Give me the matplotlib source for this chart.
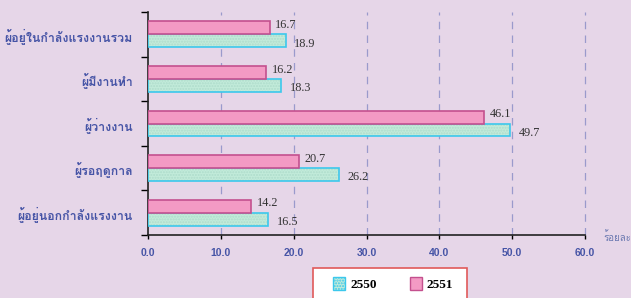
import matplotlib
matplotlib.use("Agg")
import matplotlib.pyplot as plt
from matplotlib import font_manager as fm
from matplotlib.ft2font import FT2Font
from matplotlib.patches import Patch, Rectangle
import numpy as np

categories = ["ผู้อยู่ในกำลังแรงงานรวม", "ผู้มีงานทำ", "ผู้ว่างงาน", "ผู้รอฤดูกาล", "ผู้อยู่นอกกำลังแรงงาน"]
values_2551 = [16.7, 16.2, 46.1, 20.7, 14.2]
values_2550 = [18.9, 18.3, 49.7, 26.2, 16.5]
xticks = [0, 10, 20, 30, 40, 50, 60]
xtick_labels = ["0.0", "10.0", "20.0", "30.0", "40.0", "50.0", "60.0"]
series_names = ["2550", "2551"]
unit_label = "ร้อยละ"

def find_thai_font():
    cands = []
    for f in fm.fontManager.ttflist:
        try:
            cmap = FT2Font(f.fname).get_charmap()
        except Exception:
            continue
        if ord("ผ") in cmap and ord("ำ") in cmap:
            cands.append(f.name)
    return cands[0] if cands else "DejaVu Sans"

thai = find_thai_font()

BG = "#E6D6E8"
BLUE = "#4654A6"
W, H = 631, 298
fig = plt.figure(figsize=(W/100, H/100), dpi=100, facecolor=BG)
ax = fig.add_axes([148/W, 1-235/H, (585-148)/W, (235-12)/H])
ax.set_facecolor(BG)

n = len(categories)
ypos = np.arange(n)[::-1]
h = 0.29
off = 0.145

# green (2550) bars
ax.barh(ypos - off, values_2550, height=h, color="#C2EBDA", hatch="......",
        edgecolor="#AEDCCB", linewidth=0, zorder=3)
ax.barh(ypos - off, values_2550, height=h, fill=False, edgecolor="#3CC8EC",
        linewidth=1.2, zorder=4)
# pink (2551) bars
ax.barh(ypos + off, values_2551, height=h, color="#F39AC4", edgecolor="#C4508E",
        linewidth=1.2, zorder=4)

for y, v in zip(ypos, values_2551):
    ax.annotate(f"{v:.1f}", (v, y + off), xytext=(4, 2), textcoords="offset points",
                va="center", ha="left", fontsize=8.8, family="Liberation Serif", color="#333333")
for y, v in zip(ypos, values_2550):
    ax.annotate(f"{v:.1f}", (v, y - off), xytext=(6, -2), textcoords="offset points",
                va="center", ha="left", fontsize=8.8, family="Liberation Serif", color="#333333")

ax.set_xlim(0, 60)
ax.set_ylim(-0.5, n - 0.5)
ax.set_xticks(xticks)
ax.set_xticklabels(xtick_labels, fontsize=7.5, fontweight="bold", color=BLUE, family="Liberation Sans")
for x in xticks[1:]:
    ax.axvline(x, color="#9A9ACC", lw=0.9, ls=(0, (6, 5)), zorder=1, clip_on=False)

ax.set_yticks(np.arange(-0.5, n, 1.0))
ax.set_yticklabels([])
ax.set_yticks(ypos, minor=True)
ax.set_yticklabels(categories, minor=True, fontsize=8.9, fontweight="bold", color=BLUE,
                   family=[thai, "DejaVu Sans"])
ax.tick_params(axis="y", which="major", length=5, width=1, direction="out")
ax.tick_params(axis="y", which="minor", length=0, pad=11)
ax.tick_params(axis="x", length=3, width=1, direction="out", pad=6)

for s in ["top", "right"]:
    ax.spines[s].set_visible(False)
for s in ["left", "bottom"]:
    ax.spines[s].set_color("#222222")
    ax.spines[s].set_linewidth(1.2)
ax.spines["bottom"].set_bounds(0, 60)

fig.text(603/W, 1-237/H, unit_label, fontsize=7, color="#6A78B0", va="center", ha="left",
         family=[thai, "DejaVu Sans"])

# legend box
fig.patches.append(Rectangle((313/W, -0.05), (467-313)/W, 1-268/H+0.05, transform=fig.transFigure,
                             facecolor="white", edgecolor="#E05A5A", linewidth=1.2, zorder=5))
handles = [Patch(facecolor="#C2EBDA", edgecolor="#3CC8EC", hatch="......"),
           Patch(facecolor="#F39AC4", edgecolor="#C4508E")]
leg = fig.legend(handles, series_names, loc="upper left",
                 bbox_to_anchor=(333/W, 1-277/H),
                 ncol=2, frameon=False, handlelength=0.9, handleheight=1.1,
                 handletextpad=0.4, columnspacing=2.5,
                 prop={"family": "Liberation Serif", "weight": "bold", "size": 9.5},
                 borderaxespad=0, borderpad=0)
leg.set_zorder(6)

fig.savefig("out.png", dpi=100, facecolor=BG)
